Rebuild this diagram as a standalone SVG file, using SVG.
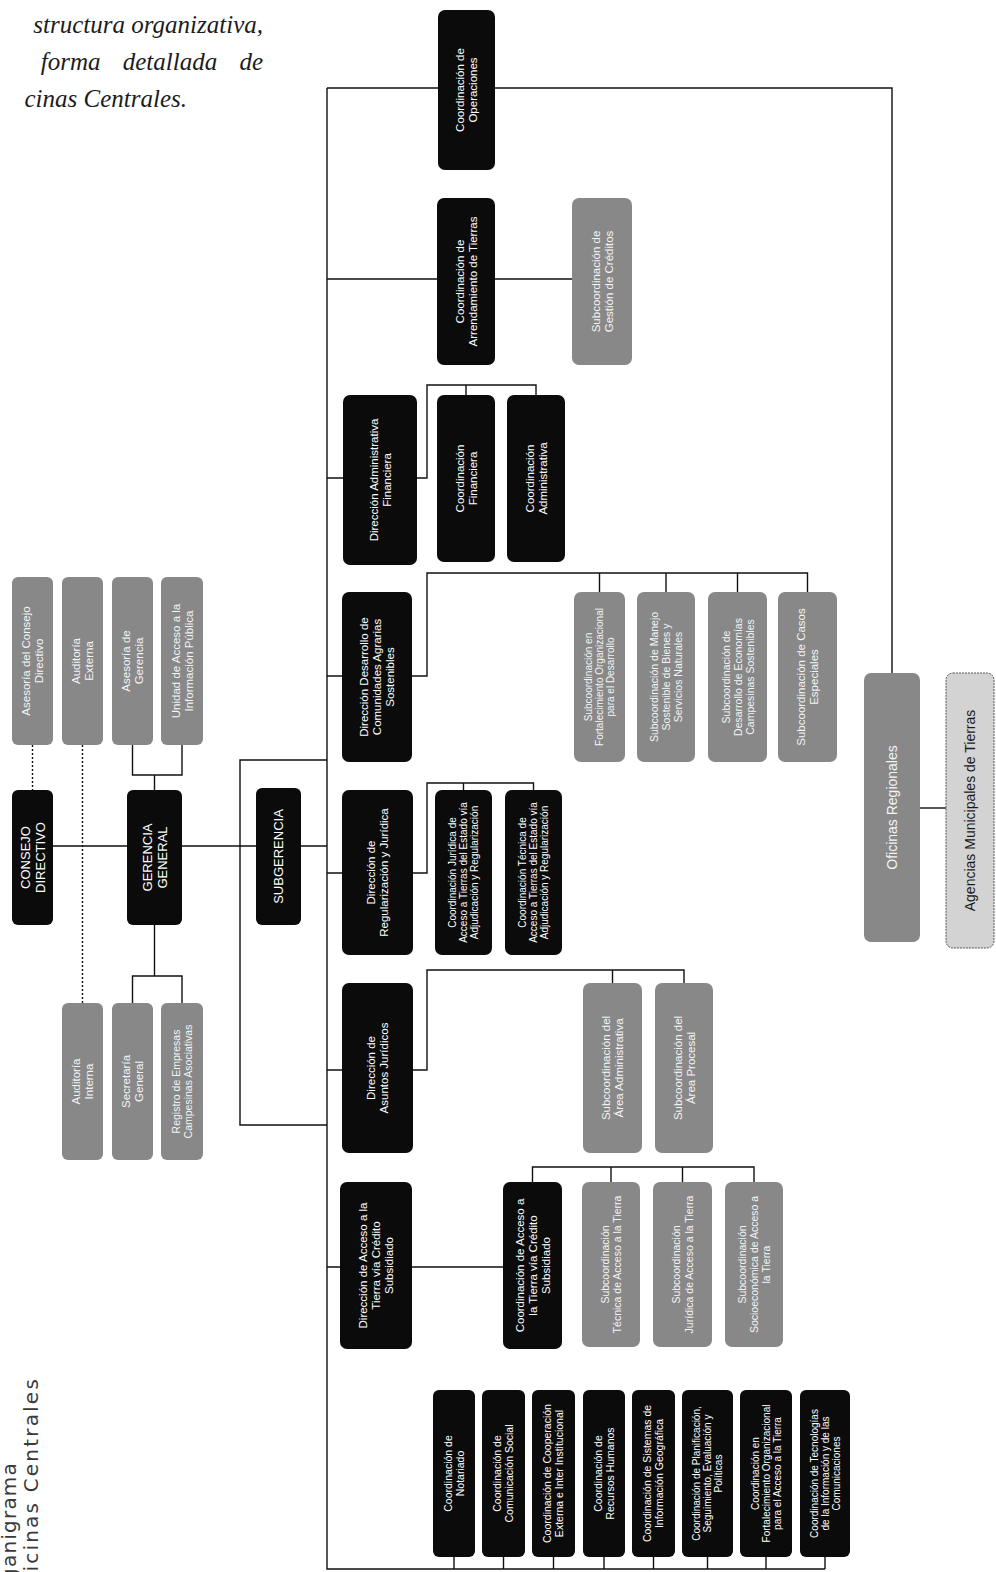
<svg xmlns="http://www.w3.org/2000/svg" width="996" height="1572" viewBox="0 0 996 1572">
<style>
.bg{fill:#fff}
.b{fill:#0b0b0b}
.g{fill:#888}
.l{fill:#d3d3d3;stroke:#555;stroke-width:1;stroke-dasharray:2 1}
.t{font-family:"Liberation Sans",Arial,sans-serif;font-size:11.5px;fill:#fff;text-anchor:middle}
.tg{fill:#f4f4f4}
.td{fill:#1a1a1a}
.tu{font-size:13px}
.s{font-size:10.5px}
.x{font-size:10px}
.c{fill:none;stroke:#111;stroke-width:1.4}
.d{stroke-dasharray:2 2}
.p{font-family:"Liberation Serif","Times New Roman",serif;font-style:italic;font-size:25px;fill:#1c1c1c}
.h{font-family:"DejaVu Sans","Liberation Sans",sans-serif;font-size:20px;fill:#3a3a3a}
</style>
<rect class="bg" x="0" y="0" width="996" height="1572"/>

<g id="intro">
<text class="p" x="263" y="33" text-anchor="end">structura organizativa,</text>
<text class="p" x="263" y="70" text-anchor="end" word-spacing="16">forma detallada de</text>
<text class="p" x="187" y="107" text-anchor="end">cinas Centrales.</text>
</g>
<g id="title">
<text class="h" transform="translate(16 1462) rotate(-90)" text-anchor="end" letter-spacing="1.2">Organigrama</text>
<text class="h" transform="translate(38 1377) rotate(-90)" text-anchor="end" letter-spacing="2.2">Oficinas Centrales</text>
</g>

<g id="connectors">
<path class="c d" d="M32.5,745 V790"/>
<path class="c d" d="M82.5,745 V1003"/>
<path class="c" d="M132.5,745 V775 H182 V745 M154.5,775 V790"/>
<path class="c" d="M154.5,925 V976 M132.5,1003 V976 H182 V1003"/>
<path class="c" d="M53,846 H127 M182,846 H256 M301,846 H327"/>
<path class="c" d="M327,760 H240 V1125 H327"/>
<path class="c" d="M327,88 V1569 H825"/>
<path class="c" d="M327,88 H438 M495,88 H892 V673"/>
<path class="c" d="M327,279 H437 M495,279 H572"/>
<path class="c" d="M327,478 H343 M417,478 H427 V385 H536 V395 M466,385 V395"/>
<path class="c" d="M327,676 H342 M412,676 H427 V573 H807.5 V592 M599.5,573 V592 M666,573 V592 M737.5,573 V592"/>
<path class="c" d="M327,873 H342 M413,873 H427 V783 H533.5 V790 M463.5,783 V790"/>
<path class="c" d="M327,1070 H342 M413,1070 H427 V970 H684 V983 M612.5,970 V983"/>
<path class="c" d="M327,1267 H340 M412,1267 H503 M532.5,1182 V1167 H754 V1182 M611,1167 V1182 M682.5,1167 V1182"/>
<path class="c" d="M454,1557 V1569 M503.5,1557 V1569 M553.5,1557 V1569 M604,1557 V1569 M653.5,1557 V1569 M707.5,1557 V1569 M766,1557 V1569 M825,1557 V1569"/>
<path class="c" d="M920,808 H946"/>
</g>

<g id="consejo"><rect class="b" x="12" y="790" width="41" height="135" rx="6"/>
<text class="t tu" transform="translate(32.5 857.5) rotate(-90)"><tspan x="0" y="-3">CONSEJO</tspan><tspan x="0" y="12">DIRECTIVO</tspan></text></g>
<g id="gerencia"><rect class="b" x="127" y="790" width="55" height="135" rx="6"/>
<text class="t tu" transform="translate(154.5 857.5) rotate(-90)"><tspan x="0" y="-3">GERENCIA</tspan><tspan x="0" y="12">GENERAL</tspan></text></g>
<g id="subgerencia"><rect class="b" x="256" y="788" width="45" height="137" rx="6"/>
<text class="t tu" transform="translate(278.5 856.5) rotate(-90)"><tspan x="0" y="4.5">SUBGERENCIA</tspan></text></g>

<g id="asesoria-consejo"><rect class="g" x="12" y="577" width="41" height="168" rx="6"/>
<text class="t tg" transform="translate(32.5 661) rotate(-90)"><tspan x="0" y="-2.5">Asesoría del Consejo</tspan><tspan x="0" y="10.5">Directivo</tspan></text></g>
<g id="auditoria-externa"><rect class="g" x="62" y="577" width="41" height="168" rx="6"/>
<text class="t tg" transform="translate(82.5 661) rotate(-90)"><tspan x="0" y="-2.5">Auditoría</tspan><tspan x="0" y="10.5">Externa</tspan></text></g>
<g id="asesoria-gerencia"><rect class="g" x="112" y="577" width="41" height="168" rx="6"/>
<text class="t tg" transform="translate(132.5 661) rotate(-90)"><tspan x="0" y="-2.5">Asesoría de</tspan><tspan x="0" y="10.5">Gerencia</tspan></text></g>
<g id="unidad-acceso"><rect class="g" x="161" y="577" width="42" height="168" rx="6"/>
<text class="t tg" transform="translate(182 661) rotate(-90)"><tspan x="0" y="-2.5">Unidad de Acceso a la</tspan><tspan x="0" y="10.5">Información Pública</tspan></text></g>

<g id="auditoria-interna"><rect class="g" x="62" y="1003" width="41" height="157" rx="6"/>
<text class="t tg" transform="translate(82.5 1081.5) rotate(-90)"><tspan x="0" y="-2.5">Auditoría</tspan><tspan x="0" y="10.5">Interna</tspan></text></g>
<g id="secretaria"><rect class="g" x="112" y="1003" width="41" height="157" rx="6"/>
<text class="t tg" transform="translate(132.5 1081.5) rotate(-90)"><tspan x="0" y="-2.5">Secretaría</tspan><tspan x="0" y="10.5">General</tspan></text></g>
<g id="registro"><rect class="g" x="161" y="1003" width="42" height="157" rx="6"/>
<text class="t tg s" transform="translate(182 1081.5) rotate(-90)"><tspan x="0" y="-2.5">Registro de Empresas</tspan><tspan x="0" y="10">Campesinas Asociativas</tspan></text></g>

<g id="operaciones"><rect class="b" x="438" y="10" width="57" height="160" rx="7"/>
<text class="t" transform="translate(466.5 90) rotate(-90)"><tspan x="0" y="-2.5">Coordinación de</tspan><tspan x="0" y="10.5">Operaciones</tspan></text></g>
<g id="arrendamiento"><rect class="b" x="437" y="198" width="58" height="167" rx="7"/>
<text class="t" transform="translate(466 281.5) rotate(-90)"><tspan x="0" y="-2.5">Coordinación de</tspan><tspan x="0" y="10.5">Arrendamiento de Tierras</tspan></text></g>
<g id="gestion-creditos"><rect class="g" x="572" y="198" width="60" height="167" rx="7"/>
<text class="t tg" transform="translate(602 281.5) rotate(-90)"><tspan x="0" y="-2.5">Subcoordinación de</tspan><tspan x="0" y="10.5">Gestión de Créditos</tspan></text></g>

<g id="dir-administrativa"><rect class="b" x="343" y="395" width="74" height="170" rx="7"/>
<text class="t" transform="translate(380 480) rotate(-90)"><tspan x="0" y="-2.5">Dirección Administrativa</tspan><tspan x="0" y="10.5">Financiera</tspan></text></g>
<g id="coord-financiera"><rect class="b" x="437" y="395" width="58" height="167" rx="7"/>
<text class="t" transform="translate(466 478.5) rotate(-90)"><tspan x="0" y="-2.5">Coordinación</tspan><tspan x="0" y="10.5">Financiera</tspan></text></g>
<g id="coord-administrativa"><rect class="b" x="507" y="395" width="58" height="167" rx="7"/>
<text class="t" transform="translate(536 478.5) rotate(-90)"><tspan x="0" y="-2.5">Coordinación</tspan><tspan x="0" y="10.5">Administrativa</tspan></text></g>

<g id="dir-desarrollo"><rect class="b" x="342" y="592" width="70" height="170" rx="7"/>
<text class="t" transform="translate(377 677) rotate(-90)"><tspan x="0" y="-9">Dirección Desarrollo de</tspan><tspan x="0" y="4">Comunidades Agrarias</tspan><tspan x="0" y="17">Sostenibles</tspan></text></g>
<g id="sub-fortalecimiento"><rect class="g" x="574" y="592" width="51" height="170" rx="7"/>
<text class="t tg x" transform="translate(599.5 677) rotate(-90)"><tspan x="0" y="-7.5">Subcoordinación en</tspan><tspan x="0" y="3.5">Fortalecimiento Organizacional</tspan><tspan x="0" y="14.5">para el Desarrollo</tspan></text></g>
<g id="sub-manejo"><rect class="g" x="637" y="592" width="58" height="170" rx="7"/>
<text class="t tg s" transform="translate(666 677) rotate(-90)"><tspan x="0" y="-8">Subcoordinación de Manejo</tspan><tspan x="0" y="4">Sostenible de Bienes y</tspan><tspan x="0" y="16">Servicios Naturales</tspan></text></g>
<g id="sub-economias"><rect class="g" x="708" y="592" width="59" height="170" rx="7"/>
<text class="t tg s" transform="translate(737.5 677) rotate(-90)"><tspan x="0" y="-8">Subcoordinación de</tspan><tspan x="0" y="4">Desarrollo de Economías</tspan><tspan x="0" y="16">Campesinas Sostenibles</tspan></text></g>
<g id="sub-casos"><rect class="g" x="778" y="592" width="59" height="170" rx="7"/>
<text class="t tg" transform="translate(807.5 677) rotate(-90)"><tspan x="0" y="-2.5">Subcoordinación de Casos</tspan><tspan x="0" y="10.5">Especiales</tspan></text></g>

<g id="dir-regularizacion"><rect class="b" x="342" y="790" width="71" height="165" rx="7"/>
<text class="t" transform="translate(377.5 872.5) rotate(-90)"><tspan x="0" y="-2.5">Dirección de</tspan><tspan x="0" y="10.5">Regularización y Jurídica</tspan></text></g>
<g id="coord-juridica"><rect class="b" x="435" y="790" width="57" height="165" rx="7"/>
<text class="t x" transform="translate(463.5 872.5) rotate(-90)"><tspan x="0" y="-7.5">Coordinación Jurídica de</tspan><tspan x="0" y="3.5">Acceso a Tierras del Estado vía</tspan><tspan x="0" y="14.5">Adjudicación y Regularización</tspan></text></g>
<g id="coord-tecnica"><rect class="b" x="505" y="790" width="57" height="165" rx="7"/>
<text class="t x" transform="translate(533.5 872.5) rotate(-90)"><tspan x="0" y="-7.5">Coordinación Técnica de</tspan><tspan x="0" y="3.5">Acceso a Tierras del Estado vía</tspan><tspan x="0" y="14.5">Adjudicación y Regularización</tspan></text></g>

<g id="dir-asuntos"><rect class="b" x="342" y="983" width="71" height="170" rx="7"/>
<text class="t" transform="translate(377.5 1068) rotate(-90)"><tspan x="0" y="-2.5">Dirección de</tspan><tspan x="0" y="10.5">Asuntos Jurídicos</tspan></text></g>
<g id="sub-administrativa"><rect class="g" x="583" y="983" width="59" height="170" rx="7"/>
<text class="t tg" transform="translate(612.5 1068) rotate(-90)"><tspan x="0" y="-2.5">Subcoordinación del</tspan><tspan x="0" y="10.5">Área Administrativa</tspan></text></g>
<g id="sub-procesal"><rect class="g" x="655" y="983" width="58" height="170" rx="7"/>
<text class="t tg" transform="translate(684 1068) rotate(-90)"><tspan x="0" y="-2.5">Subcoordinación del</tspan><tspan x="0" y="10.5">Área Procesal</tspan></text></g>

<g id="dir-acceso"><rect class="b" x="340" y="1182" width="72" height="167" rx="7"/>
<text class="t" transform="translate(376 1265.5) rotate(-90)"><tspan x="0" y="-9">Dirección de Acceso a la</tspan><tspan x="0" y="4">Tierra vía Crédito</tspan><tspan x="0" y="17">Subsidiado</tspan></text></g>
<g id="coord-acceso"><rect class="b" x="503" y="1182" width="59" height="167" rx="7"/>
<text class="t" transform="translate(532.5 1265.5) rotate(-90)"><tspan x="0" y="-9">Coordinación de Acceso a</tspan><tspan x="0" y="4">la Tierra vía Crédito</tspan><tspan x="0" y="17">Subsidiado</tspan></text></g>
<g id="sub-tecnica"><rect class="g" x="582" y="1182" width="58" height="165" rx="7"/>
<text class="t tg s" transform="translate(611 1264.5) rotate(-90)"><tspan x="0" y="-2.5">Subcoordinación</tspan><tspan x="0" y="10">Técnica de Acceso a la Tierra</tspan></text></g>
<g id="sub-juridica"><rect class="g" x="653" y="1182" width="59" height="165" rx="7"/>
<text class="t tg s" transform="translate(682.5 1264.5) rotate(-90)"><tspan x="0" y="-2.5">Subcoordinación</tspan><tspan x="0" y="10">Jurídica de Acceso a la Tierra</tspan></text></g>
<g id="sub-socioeconomica"><rect class="g" x="725" y="1182" width="58" height="165" rx="7"/>
<text class="t tg s" transform="translate(754 1264.5) rotate(-90)"><tspan x="0" y="-8">Subcoordinación</tspan><tspan x="0" y="4">Socioeconómica de Acceso a</tspan><tspan x="0" y="16">la Tierra</tspan></text></g>

<g id="coord-notariado"><rect class="b" x="433" y="1390" width="42" height="167" rx="6"/>
<text class="t s" transform="translate(454 1473.5) rotate(-90)"><tspan x="0" y="-2.5">Coordinación de</tspan><tspan x="0" y="9.5">Notariado</tspan></text></g>
<g id="coord-comunicacion"><rect class="b" x="482" y="1390" width="43" height="167" rx="6"/>
<text class="t s" transform="translate(503.5 1473.5) rotate(-90)"><tspan x="0" y="-2.5">Coordinación de</tspan><tspan x="0" y="9.5">Comunicación Social</tspan></text></g>
<g id="coord-cooperacion"><rect class="b" x="532" y="1390" width="43" height="167" rx="6"/>
<text class="t s" transform="translate(553.5 1473.5) rotate(-90)"><tspan x="0" y="-2.5">Coordinación de Cooperación</tspan><tspan x="0" y="9.5">Externa e Inter Institucional</tspan></text></g>
<g id="coord-rrhh"><rect class="b" x="583" y="1390" width="42" height="167" rx="6"/>
<text class="t s" transform="translate(604 1473.5) rotate(-90)"><tspan x="0" y="-2.5">Coordinación de</tspan><tspan x="0" y="9.5">Recursos Humanos</tspan></text></g>
<g id="coord-sig"><rect class="b" x="632" y="1390" width="43" height="167" rx="6"/>
<text class="t s" transform="translate(653.5 1473.5) rotate(-90)"><tspan x="0" y="-2.5">Coordinación de Sistemas de</tspan><tspan x="0" y="9.5">Información Geográfica</tspan></text></g>
<g id="coord-planificacion"><rect class="b" x="682" y="1390" width="51" height="167" rx="6"/>
<text class="t x" transform="translate(707.5 1473.5) rotate(-90)"><tspan x="0" y="-7.5">Coordinación de Planificación,</tspan><tspan x="0" y="3.5">Seguimiento, Evaluación y</tspan><tspan x="0" y="14.5">Políticas</tspan></text></g>
<g id="coord-fortalecimiento"><rect class="b" x="740" y="1390" width="52" height="167" rx="6"/>
<text class="t x" transform="translate(766 1473.5) rotate(-90)"><tspan x="0" y="-7.5">Coordinación en</tspan><tspan x="0" y="3.5">Fortalecimiento Organizacional</tspan><tspan x="0" y="14.5">para el Acceso a la Tierra</tspan></text></g>
<g id="coord-tic"><rect class="b" x="800" y="1390" width="50" height="167" rx="6"/>
<text class="t x" transform="translate(825 1473.5) rotate(-90)"><tspan x="0" y="-7.5">Coordinación de Tecnologías</tspan><tspan x="0" y="3.5">de la Información y de las</tspan><tspan x="0" y="14.5">Comunicaciones</tspan></text></g>

<g id="oficinas-regionales"><rect class="g" x="864" y="673" width="56" height="269" rx="7"/>
<text class="t tg" transform="translate(892 807.5) rotate(-90)" style="font-size:14px"><tspan x="0" y="5">Oficinas Regionales</tspan></text></g>
<g id="agencias-municipales"><rect class="l" x="946" y="673" width="48" height="275" rx="7"/>
<text class="t td" transform="translate(970 810.5) rotate(-90)" style="font-size:14px"><tspan x="0" y="5">Agencias Municipales de Tierras</tspan></text></g>
</svg>
